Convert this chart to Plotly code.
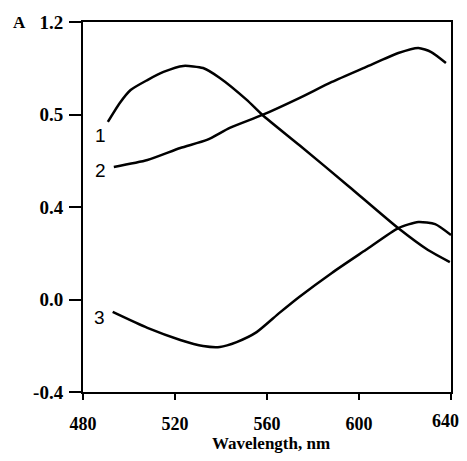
import plotly.graph_objects as go

# Curve 1
c1_x = [490.8, 496.0, 500.7, 508.0, 515.0, 523.6, 532.2, 539.5, 551.2, 558.0, 574.0, 595.6, 617.0, 630.0, 639.5]
c1_y = [0.768, 0.850, 0.906, 0.949, 0.984, 1.010, 1.001, 0.958, 0.863, 0.798, 0.668, 0.489, 0.309, 0.214, 0.162]
# Curve 2
c2_x = [493.4, 508.0, 522.3, 533.9, 543.8, 558.0, 574.0, 588.2, 602.9, 617.1, 625.8, 631.4, 637.8]
c2_y = [0.573, 0.603, 0.655, 0.690, 0.742, 0.798, 0.871, 0.941, 1.005, 1.066, 1.088, 1.070, 1.023]
# Curve 3
c3_x = [492.9, 508.0, 522.3, 532.2, 539.5, 546.8, 555.5, 565.4, 574.0, 588.2, 602.9, 617.1, 625.8, 633.1, 640.0]
c3_y = [-0.054, -0.123, -0.175, -0.201, -0.205, -0.184, -0.141, -0.058, 0.011, 0.115, 0.214, 0.309, 0.335, 0.326, 0.279]

x_ticks = [480, 520, 560, 600, 640]
x_tick_text = ["480", "520", "560", "600", "640"]
y_ticks = [-0.4, 0.0, 0.4, 0.8, 1.2]
y_tick_text = ["-0.4", "0.0", "0.4", "0.5", "1.2"]

curve_labels = ["1", "2", "3"]
label_pos = [(487.8, 0.711), (487.8, 0.560), (487.3, -0.076)]

serif = "Liberation Serif, DejaVu Serif, serif"

# page body has an 8px margin, so the figure is sized to fit the remaining area
W, H = 459, 445
ML, MR, MT, MB = 75, 16, 14, 61
plot_h = H - MT - MB

fig = go.Figure()
for xs, ys in [(c1_x, c1_y), (c2_x, c2_y), (c3_x, c3_y)]:
    fig.add_trace(go.Scatter(x=xs, y=ys, mode="lines",
                             line=dict(color="black", width=2.5, shape="spline", smoothing=0.6),
                             showlegend=False, hoverinfo="skip"))

for t, (lx, ly) in zip(curve_labels, label_pos):
    fig.add_annotation(x=lx, y=ly, text=t, showarrow=False,
                       font=dict(family="Liberation Sans, Arial, sans-serif", size=19, color="black"))

fig.add_annotation(x=-0.195, y=1.2, xref="paper", yref="y", text="A", showarrow=False,
                   xanchor="left", font=dict(family=serif, size=17, color="black", weight="bold"))

fig.add_annotation(x=0.511, y=-52 / plot_h, xref="paper", yref="paper", text="Wavelength, nm",
                   showarrow=False, xanchor="center", yanchor="middle",
                   font=dict(family=serif, size=17, color="black", weight="bold"))

tickfont_x = dict(family=serif, size=18, color="black", weight="bold")
# the last x tick label would be clipped at the page edge; draw it as an annotation nudged left
shown_x_text = x_tick_text[:-1] + [""]
fig.add_annotation(x=x_ticks[-1], y=-29 / plot_h, xref="x", yref="paper", text=x_tick_text[-1],
                   showarrow=False, xanchor="center", yanchor="middle", xshift=-6,
                   font=tickfont_x)

fig.update_layout(
    width=W, height=H,
    margin=dict(l=ML, r=MR, t=MT, b=MB),
    paper_bgcolor="white", plot_bgcolor="white",
    font=dict(family=serif, size=18, color="black"),
    xaxis=dict(range=[480, 640], tickvals=x_ticks, ticktext=shown_x_text, automargin=False,
               showline=True, linecolor="black", linewidth=2, mirror=True,
               ticks="outside", ticklen=6, tickwidth=2, tickcolor="black",
               ticklabelstandoff=8,
               showgrid=False, zeroline=False,
               tickfont=tickfont_x),
    yaxis=dict(range=[-0.4, 1.2], tickvals=y_ticks, ticktext=y_tick_text, automargin=False,
               showline=True, linecolor="black", linewidth=2, mirror=True,
               ticks="outside", ticklen=12, tickwidth=2, tickcolor="black",
               ticklabelstandoff=2,
               showgrid=False, zeroline=False,
               tickfont=dict(family=serif, size=19, color="black", weight="bold")),
)

fig.write_html("out.html")
